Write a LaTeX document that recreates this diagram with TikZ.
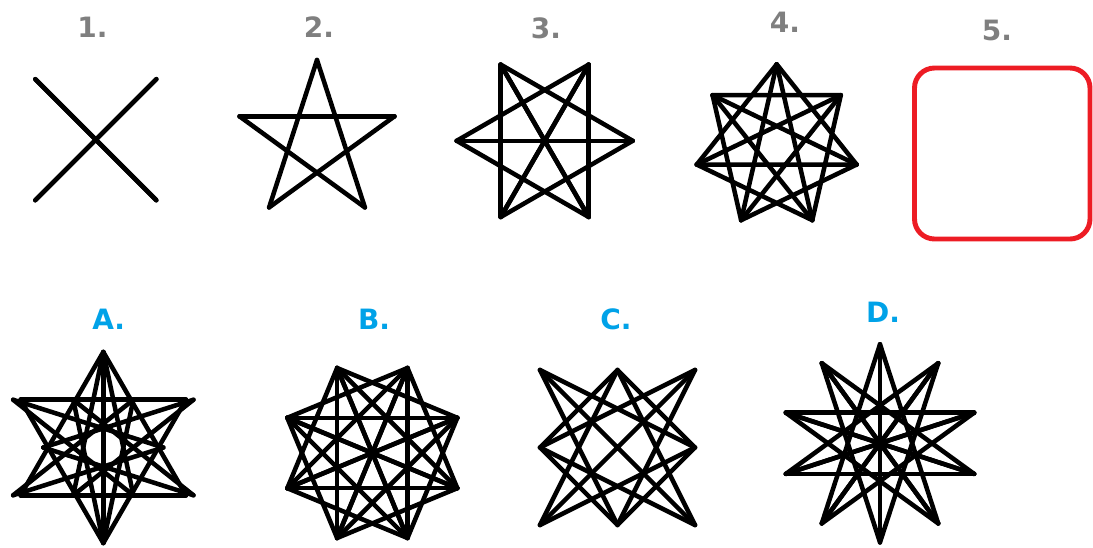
\documentclass[tikz,border=0pt]{standalone}
\usepackage{fontspec}
\setmainfont{DejaVu Sans}
\usepackage{tikz}
\usetikzlibrary{calc}
\definecolor{numgray}{RGB}{127,127,127}
\definecolor{optblue}{RGB}{0,162,232}
\definecolor{boxred}{RGB}{237,28,36}
\tikzset{
  figline/.style={draw=black,line width=3.4pt,line cap=round,line join=round},
  lbl/.style={font=\bfseries\fontsize{21}{21}\selectfont,text=#1,inner sep=0pt},
  lbl/.default=numgray,
  gap/.style={draw=boxred,line width=3.7pt,rounded corners=15pt},
  % n / skips / start angle / radius
  pics/chords/.style args={#1/#2/#3/#4}{code={
    \foreach \i in {1,...,#1}
      \foreach \k in {#2}
        \draw[figline] ({#3+360*\i/#1}:#4) -- ({#3+360*(\i+\k)/#1}:#4);
  }},
}

\begin{document}
\begin{tikzpicture}[x=0.75pt,y=0.75pt]
  \useasboundingbox (0,0) rectangle (1093,-547);
  % labels
  \foreach \n/\x/\y in {1/92.5/27,2/319/27,3/546/28,4/785/22,5/997/30}
    \node[lbl] (num\n) at (\x,-\y) {\n.};
  \foreach \n/\x/\y in {A/108.7/319,B/374/319,C/616/319,D/883/312.5}
    \node[lbl=optblue] (opt\n) at (\x,-\y) {\n.};

  % sequence
  \pic at (95.8,-139.7) {chords=4/2/45/85.6};
  \pic at (317,-141.5) {chords=5/2/90/81.5};
  \pic at (544.7,-140.8) {chords=6/{2,3}/0/88};
  \pic at (776.7,-146.3) {chords=7/{2,3}/90/82};
  \draw[gap] (914.5,-68) rectangle (1090,-239);

  % option A
  \begin{scope}[shift={(103.3,-447.5)},xscale=1.09]
    \pic {chords=6/2/90/95.5};
    \draw[figline] (90:95.5) -- (270:95.5);
    \foreach \a in {90,150,...,420}{
      \draw[figline] (\a:95.5) -- (\a+150:55.1);
      \draw[figline] (\a:95.5) -- (\a+210:55.1);
    }
  \end{scope}
  % option B
  \pic at (372.3,-453) {chords=8/{2,3,4}/22.5/92};
  % option C
  \begin{scope}[shift={(617.5,-447.5)}]
    \draw[figline] (0,77.5) -- (77.5,0) -- (0,-77.5) -- (-77.5,0) -- cycle;
    \draw[figline] (-77.5,77.5) -- (77.5,-77.5) (77.5,77.5) -- (-77.5,-77.5);
    \foreach \sx/\sy in {1/1,1/-1,-1/-1,-1/1}{
      \draw[figline] (\sx*77.5,\sy*77.5) -- (-\sx*77.5,0);
      \draw[figline] (\sx*77.5,\sy*77.5) -- (0,-\sy*77.5);
    }
  \end{scope}
  % option D
  \pic at (880,-443.3) {chords=10/{4,5}/90/99};
\end{tikzpicture}
\end{document}
